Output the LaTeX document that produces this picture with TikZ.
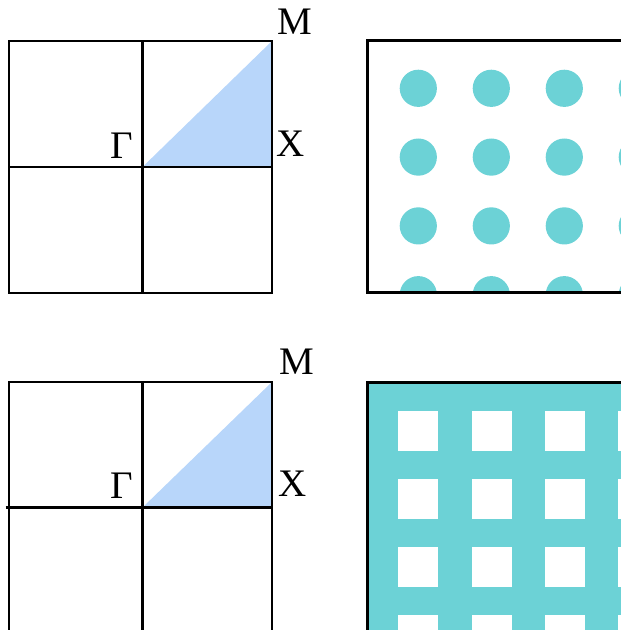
\documentclass[tikz,border=0pt]{standalone}
\usepackage{fontspec}
\setmainfont{Liberation Serif}
\begin{document}
\begin{tikzpicture}[x=1pt,y=1pt,
  gridline/.style={line width=2.4pt,black},
  framebox/.style={line width=3pt,black},
  lab/.style={anchor=base,inner sep=0pt,font=\fontsize{39}{42}\selectfont},
  wedge/.style={fill=bzfill,draw=none},
  teal/.style={fill=tealc,draw=none}]
\definecolor{bzfill}{HTML}{B8D6FA}
\definecolor{tealc}{HTML}{6CD2D6}
\useasboundingbox (0,0) rectangle (621,630);
\clip (0,0) rectangle (621,630);
% ---------- top-left Brillouin zone ----------
\fill[wedge] (142.5,463) -- (272,589) -- (272,463) -- cycle;
\draw[gridline] (9,589) rectangle (272,337);
\draw[gridline] (142.5,589) -- (142.5,337);
\draw[gridline] (9,463) -- (272,463);
\node[lab] (M1) at (295,595) {M};
\node[lab] (X1) at (291,473) {X};
\node[lab] (G1) at (121.5,471) {Γ};
% ---------- bottom-left Brillouin zone ----------
\fill[wedge] (142.5,122.5) -- (272,248) -- (272,122.5) -- cycle;
\draw[gridline] (9,-5) -- (9,248) -- (272,248) -- (272,-5);
\draw[gridline] (142.5,248) -- (142.5,-5);
\draw[gridline] (5.5,122.5) -- (272,122.5);
\node[lab] (M2) at (296.5,255) {M};
\node[lab] (X2) at (292.5,133) {X};
\node[lab] (G2) at (121.5,131) {Γ};
% ---------- top-right: lattice of rods ----------
\begin{scope}
  \clip (367.5,589) rectangle (640,337.5);
  \foreach \i in {0,...,3}{
    \foreach \j in {0,...,3}{
      \fill[teal] ({418.3+73*\i},{541.7-68.8*\j}) circle (18.6);
    }
  }
\end{scope}
\draw[framebox] (640,589) -- (367.5,589) -- (367.5,337.5) -- (640,337.5);
% ---------- bottom-right: holes in slab ----------
\fill[teal] (367.5,247.5) rectangle (640,-5);
\foreach \i in {0,...,3}{
  \foreach \j in {0,...,3}{
    \fill[white] ({398.3+73.2*\i},{218.5-68*\j}) rectangle ++(40,-39.2);
  }
}
\draw[framebox] (640,247.5) -- (367.5,247.5) -- (367.5,-5);
\end{tikzpicture}
\end{document}
